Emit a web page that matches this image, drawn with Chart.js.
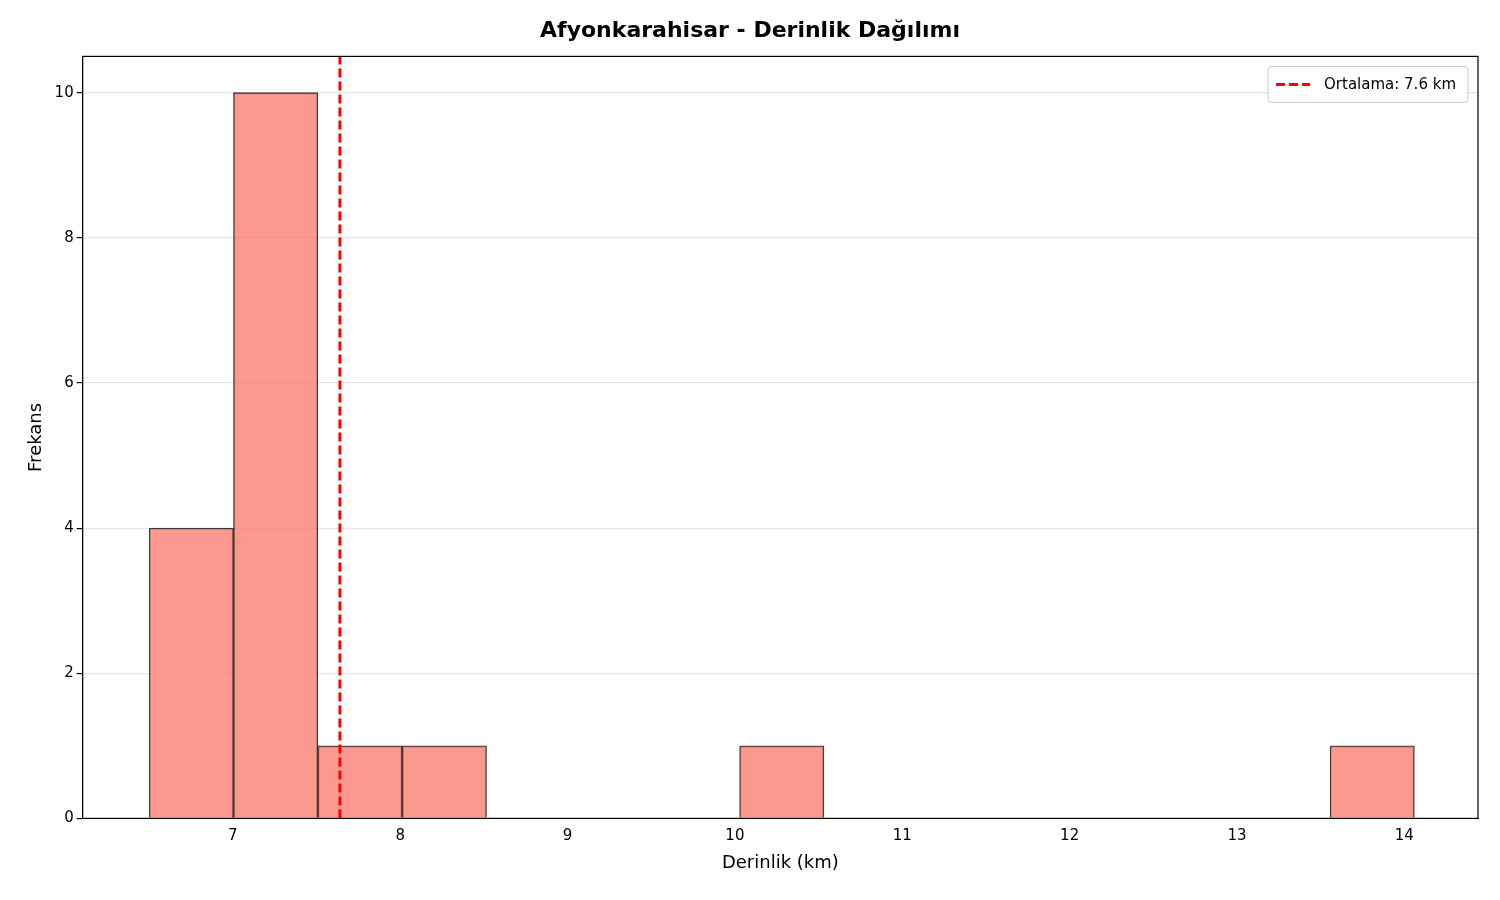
<!DOCTYPE html>
<html><head><meta charset="utf-8">
<script src="https://cdn.jsdelivr.net/npm/chart.js@4"></script>
<style>body{margin:0;background:#fff}#w{width:1500px;height:900px}</style>
</head><body><div id="w"><canvas id="c"></canvas></div>
<script>
const binStart = 6.5;
const binWidth = 0.504;
const counts = [4,10,1,1,0,0,0,1,0,0,0,0,0,0,1];
const meanDepth = 7.64;
const xTicks = [7,8,9,10,11,12,13,14];
const yTicks = [0,2,4,6,8,10];

const barData = counts.map((c,i)=>({x: binStart + binWidth*(i+0.5), y: c}));
const font = {family:'DejaVu Sans'};
const meanLabel = 'Ortalama: '+meanDepth.toFixed(1)+' km';

const frame = {
  id:'frame',
  afterDraw(ch){
    const a=ch.chartArea, g=ch.ctx;
    g.save(); g.strokeStyle='#000'; g.lineWidth=1.2;
    g.strokeRect(a.left,a.top,a.right-a.left,a.bottom-a.top);
    // legend box
    g.font='15px DejaVu Sans';
    const tw=g.measureText(meanLabel).width;
    const w=tw+68, h=36, x=a.right-10-w, y=a.top+10;
    g.fillStyle='rgba(255,255,255,0.85)'; g.strokeStyle='#ccc'; g.lineWidth=1;
    g.beginPath(); g.roundRect(x,y,w,h,3); g.fill(); g.stroke();
    g.strokeStyle='#ff0000'; g.lineWidth=3; g.setLineDash([9,4]);
    g.beginPath(); g.moveTo(x+8,y+h/2); g.lineTo(x+42,y+h/2); g.stroke();
    g.setLineDash([]); g.fillStyle='#000'; g.textBaseline='middle';
    g.fillText(meanLabel,x+56,y+h/2+1);
    g.restore();
  }
};

new Chart(document.getElementById('c'), {
  type:'bar',
  data:{datasets:[
    {type:'line', label:meanLabel, data:[{x:meanDepth,y:0},{x:meanDepth,y:10.5}],
     borderColor:'#ff0000', borderWidth:3, borderDash:[9,4], pointRadius:0, fill:false, order:0},
    {label:'hist', data:barData, backgroundColor:'rgba(250,128,114,0.8)', borderColor:'rgba(0,0,0,0.75)',
     borderWidth:1.3, barPercentage:1, categoryPercentage:1, grouped:false, order:1}
  ]},
  plugins:[frame],
  options:{
    responsive:true, maintainAspectRatio:false, animation:false,
    layout:{padding:{left:22,right:22,top:6,bottom:22}},
    plugins:{
      title:{display:true,text:'Afyonkarahisar - Derinlik Dağılımı',color:'#000',font:{...font,size:22,weight:'bold'},padding:{top:12,bottom:12}},
      legend:{display:false},
      tooltip:{enabled:false}
    },
    scales:{
      x:{type:'linear',min:6.103,max:14.44,offset:false,
        afterBuildTicks(s){s.ticks=xTicks.map(v=>({value:v}));},
        grid:{display:false,drawTicks:true,tickLength:6,tickColor:'#000'},border:{color:'#000'},
        ticks:{color:'#000',font:{...font,size:15}},
        title:{display:true,text:'Derinlik (km)',color:'#000',font:{...font,size:18}}},
      y:{min:0,max:10.5,
        afterBuildTicks(s){s.ticks=yTicks.map(v=>({value:v}));},
        grid:{color:'#e6e6e6',lineWidth:1.2,tickColor:'#000',tickLength:6},border:{color:'#000'},
        ticks:{color:'#000',font:{...font,size:15}},
        title:{display:true,text:'Frekans',color:'#000',font:{...font,size:18}}}
    }
  }
});
</script></body></html>
